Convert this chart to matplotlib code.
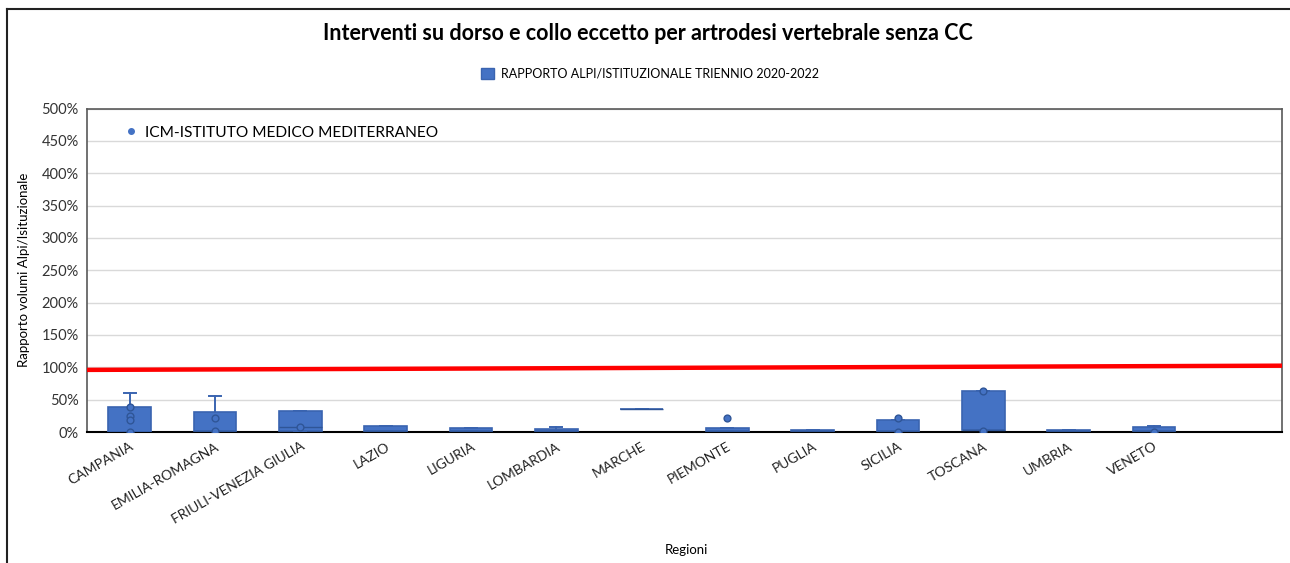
import matplotlib
matplotlib.use("Agg")
import matplotlib.pyplot as plt
from matplotlib.lines import Line2D
from matplotlib.patches import Patch
import matplotlib.ticker as mtick

plt.rcParams['font.family'] = ['Lato', 'DejaVu Sans']

regions = ["CAMPANIA", "EMILIA-ROMAGNA", "FRIULI-VENEZIA GIULIA", "LAZIO", "LIGURIA",
           "LOMBARDIA", "MARCHE", "PIEMONTE", "PUGLIA", "SICILIA", "TOSCANA",
           "UMBRIA", "VENETO"]
q1 =      [0.00, 0.01, 0.01, 0.02, 0.01, 0.01, 0.35, 0.01, 0.02, 0.02, 0.03, 0.02, 0.02]
median =  [0.00, 0.01, 0.08, 0.02, 0.01, 0.01, 0.35, 0.01, 0.02, 0.02, 0.03, 0.02, 0.02]
q3 =      [0.39, 0.305, 0.33, 0.10, 0.06, 0.05, 0.35, 0.06, 0.03, 0.19, 0.64, 0.03, 0.07]
whis_lo = [0.00, 0.01, 0.01, 0.02, 0.01, 0.01, 0.35, 0.01, 0.02, 0.02, 0.03, 0.02, 0.02]
whis_hi = [0.60, 0.56, 0.33, 0.10, 0.06, 0.08, 0.35, 0.06, 0.03, 0.19, 0.64, 0.03, 0.10]
points = {
    "CAMPANIA": [0.39, 0.25, 0.19, 0.0],
    "EMILIA-ROMAGNA": [0.22, 0.02],
    "FRIULI-VENEZIA GIULIA": [0.08],
    "PIEMONTE": [0.21],
    "SICILIA": [0.21, 0.0],
    "TOSCANA": [0.64, 0.02],
    "VENETO": [0.0],
}
threshold = [0.96, 1.025]
yticks = [0, 0.5, 1.0, 1.5, 2.0, 2.5, 3.0, 3.5, 4.0, 4.5, 5.0]

fig = plt.figure(figsize=(12.9, 5.63), dpi=100)
ax = fig.add_axes([87/1290, 1-432/563, (1282-87)/1290, (432-108.5)/563])

blue = '#4472C4'
edge = '#3A64B0'
stats = []
for i, r in enumerate(regions):
    stats.append(dict(label=r, q1=q1[i], med=median[i], q3=q3[i],
                      whislo=whis_lo[i], whishi=whis_hi[i], fliers=[]))
pos = list(range(1, len(regions) + 1))
ax.bxp(stats, positions=pos, widths=0.5, patch_artist=True, showfliers=False,
       boxprops=dict(facecolor=blue, edgecolor=edge, linewidth=1.2),
       medianprops=dict(color='#2F5597', linewidth=1.0),
       whiskerprops=dict(color=edge, linewidth=1.4),
       capprops=dict(color=edge, linewidth=1.4), capwidths=0.14, zorder=3)

for r, vals in points.items():
    x = regions.index(r) + 1
    ax.scatter([x] * len(vals), vals, s=24, facecolor=blue, edgecolor='#2F5597',
               linewidth=1.0, zorder=4)

ax.plot([0.5, 14.5], threshold, color='#FF0000', linewidth=3.2, zorder=5,
        solid_capstyle='butt')

ax.set_xlim(0.5, 14.5)
ax.set_ylim(0, 5.0)
ax.set_yticks(yticks)
ax.yaxis.set_major_formatter(mtick.PercentFormatter(1.0, decimals=0))
ax.set_xticks(pos)
ax.set_xticklabels(regions, rotation=30, ha='right', rotation_mode='anchor',
                   fontsize=10, color='#222222')
ax.tick_params(axis='both', length=0, pad=6)
ax.tick_params(axis='y', labelsize=10.5, colors='#333333', pad=6)
ax.grid(axis='y', color='#D9D9D9', linewidth=1.0, zorder=0)
ax.set_axisbelow(True)
for s in ['left', 'top', 'right']:
    ax.spines[s].set_color('#595959')
    ax.spines[s].set_linewidth(1.2)
ax.spines['bottom'].set_color('#000000')
ax.spines['bottom'].set_linewidth(1.5)

ax.set_ylabel("Rapporto volumi Alpi/Isituzionale", fontsize=9.5, labelpad=8)
fig.text(686/1290, 1-550/563, "Regioni", ha='center', va='center', fontsize=9.5)

fig.text(648/1290, 1-33/563,
         "Interventi su dorso e collo eccetto per artrodesi vertebrale senza CC",
         ha='center', va='center', fontsize=15.5, fontweight='bold')

leg = fig.legend(handles=[Patch(facecolor=blue, edgecolor=edge)],
                 labels=["RAPPORTO ALPI/ISTITUZIONALE TRIENNIO 2020-2022"],
                 loc='center', bbox_to_anchor=(650/1290, 1-74/563), frameon=False,
                 fontsize=9, handlelength=1.0, handleheight=1.0, handletextpad=0.6)

ax.legend(handles=[Line2D([], [], marker='o', linestyle='None', markersize=4,
                          markerfacecolor=blue, markeredgecolor=blue)],
          labels=["ICM-ISTITUTO MEDICO MEDITERRANEO"], loc='upper left',
          bbox_to_anchor=(0.02, 0.99), frameon=False, fontsize=11.2,
          handlelength=0.8, handletextpad=0.5)

# figure border lines
fig.add_artist(Line2D([6.5/1290, 6.5/1290], [0, 1-9/563], transform=fig.transFigure,
                      color='#222222', linewidth=1.5))
fig.add_artist(Line2D([6.5/1290, 1], [1-9/563, 1-9/563], transform=fig.transFigure,
                      color='#222222', linewidth=1.5))

fig.savefig("out.png", dpi=100)
